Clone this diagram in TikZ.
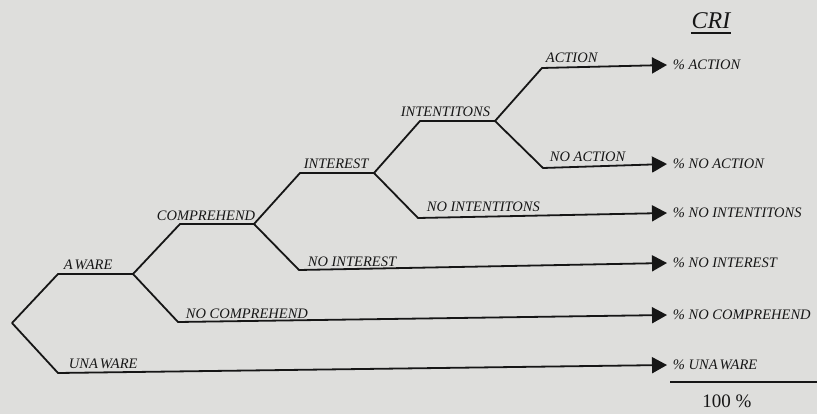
\documentclass[tikz,border=0pt]{standalone}
\usepackage{fontspec}
\setmainfont{Liberation Serif}
\usetikzlibrary{arrows.meta}
\definecolor{paper}{RGB}{222,222,220}
\definecolor{ink}{RGB}{22,22,22}
\begin{document}
\begin{tikzpicture}[x=1pt,y=-1pt, line width=1.8pt, draw=ink, text=ink, line join=round,
  lbl/.style={font=\fontsize{14.5}{16}\selectfont\itshape, inner sep=0pt, anchor=base west},
  res/.style={font=\fontsize{14.5}{16}\selectfont\itshape, inner xsep=5pt, inner ysep=0pt, anchor=west},
  arr/.style={-{Triangle[length=15pt,width=16pt]}}]
\fill[paper] (0,0) rectangle (817,414);
\useasboundingbox (0,0) rectangle (817,414);
% junctions
\coordinate (root) at (12,323);
\coordinate (awA) at (58,274);  \coordinate (awB) at (133,274);
\coordinate (unA) at (58,373);
\coordinate (ncA) at (178,322);
\coordinate (coA) at (180,224); \coordinate (coB) at (254,224);
\coordinate (niA) at (299,270);
\coordinate (inA) at (300,173); \coordinate (inB) at (374,173);
\coordinate (nitA) at (418,218);
\coordinate (itA) at (420,121); \coordinate (itB) at (495,121);
\coordinate (acA) at (542,68);
\coordinate (naA) at (543,168);
% results
\node[res] (rac) at (667,65) {\% ACTION};
\node[res] (rna) at (667,164) {\% NO ACTION};
\node[res] (rnit) at (667,213) {\% NO INTENTITONS};
\node[res] (rni) at (667,263) {\% NO INTEREST};
\node[res] (rnc) at (667,315) {\% NO COMPREHEND};
\node[res] (run) at (667,365) {\% UNA\kern2pt WARE};
% branches
\draw (root) -- (awA) -- (awB);
\draw[arr] (root) -- (unA) -- (run.west);
\draw (awB) -- (coA) -- (coB);
\draw[arr] (awB) -- (ncA) -- (rnc.west);
\draw (coB) -- (inA) -- (inB);
\draw[arr] (coB) -- (niA) -- (rni.west);
\draw (inB) -- (itA) -- (itB);
\draw[arr] (inB) -- (nitA) -- (rnit.west);
\draw[arr] (itB) -- (acA) -- (rac.west);
\draw[arr] (itB) -- (naA) -- (rna.west);
% labels
\node[lbl] (law) at (63,270) {A\kern2pt WARE};
\node[lbl] (lun) at (68,368) {UNA\kern2pt WARE};
\node[lbl] (lnc) at (185,319) {NO COMPREHEND};
\node[lbl] (lco) at (156,221) {COMPREHEND};
\node[lbl] (lni) at (307,266) {NO INTEREST};
\node[lbl] (lin) at (303,169) {INTEREST};
\node[lbl] (lit) at (400,117) {INTENTITONS};
\node[lbl] (lnit) at (426,212) {NO INTENTITONS};
\node[lbl] (lac) at (545,63) {ACTION};
\node[lbl] (lna) at (549,162) {NO ACTION};
% header and total
\node[font=\fontsize{24}{26}\selectfont\itshape, inner sep=0pt] (cri) at (711,21) {CRI};
\draw[line width=1.8pt] ([yshift=-3pt]cri.south west) -- ([yshift=-3pt]cri.south east);
\draw[line width=1.1pt] (670,382) -- (817,382);
\node[font=\fontsize{19}{21}\selectfont, inner sep=0pt] (tot) at (727,401) {100 \%};
\end{tikzpicture}
\end{document}
